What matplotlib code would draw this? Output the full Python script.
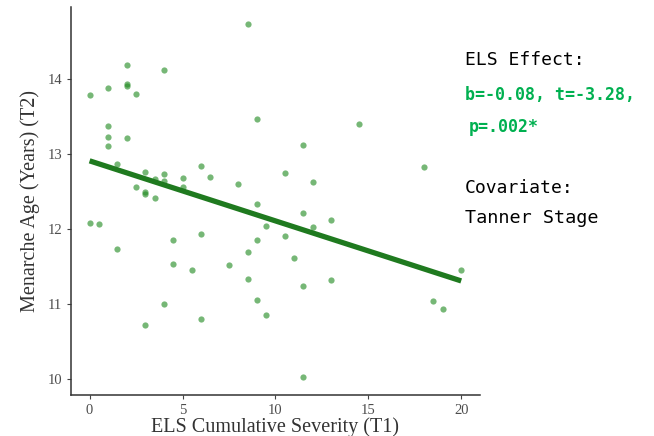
import numpy as np
import matplotlib
matplotlib.use("Agg")
import matplotlib.pyplot as plt

# ELS cumulative severity (T1) and menarche age (T2) per participant
els_severity = [8.5, 2.0, 4.0, 0.0, 1.0, 2.0, 2.0, 2.5, 9.0, 1.0,
                1.0, 2.0, 1.0, 1.5, 6.0, 6.5, 8.0, 3.0, 3.5, 4.0,
                4.0, 5.0, 5.0, 2.5, 3.0, 3.0, 3.5, 14.5, 11.5, 10.5,
                12.0, 18.0, 0.0, 0.5, 1.5, 4.5, 6.0, 9.0, 9.5, 9.0,
                8.5, 4.5, 5.5, 7.5, 8.5, 9.0, 9.5, 4.0, 3.0, 6.0,
                11.5, 12.0, 13.0, 10.5, 11.0, 11.5, 13.0, 20.0, 18.5, 19.0,
                11.5]
menarche_age = [14.73, 14.19, 14.12, 13.79, 13.88, 13.93, 13.91, 13.80, 13.47, 13.37,
                13.23, 13.22, 13.11, 12.87, 12.84, 12.70, 12.60, 12.76, 12.67, 12.74,
                12.64, 12.68, 12.56, 12.56, 12.49, 12.47, 12.42, 13.40, 13.12, 12.75,
                12.63, 12.83, 12.08, 12.07, 11.74, 11.86, 11.93, 12.33, 12.04, 11.86,
                11.70, 11.54, 11.46, 11.52, 11.33, 11.05, 10.85, 11.00, 10.72, 10.80,
                12.22, 12.03, 12.12, 11.91, 11.61, 11.24, 11.32, 11.45, 11.04, 10.93,
                10.03]

# fitted line (adjusted for Tanner stage)
intercept = 12.91
slope = -0.08

x_ticks = [0, 5, 10, 15, 20]
y_ticks = [10, 11, 12, 13, 14]

fig = plt.figure(figsize=(6.54, 4.36), dpi=100)
ax = fig.add_axes([0.1086, 0.094, 0.625, 0.89])

ax.scatter(els_severity, menarche_age, s=20, color="#228B22", alpha=0.62,
           linewidths=0, zorder=2)

xs = np.array([min(els_severity), max(els_severity)])
ax.plot(xs, intercept + slope * xs, color="#1f7a1f", lw=3.8,
        solid_capstyle="butt", zorder=3)

ax.set_xlim(-1, 21)
ax.set_ylim(9.79, 14.96)
ax.set_xticks(x_ticks)
ax.set_yticks(y_ticks)

for side in ["top", "right"]:
    ax.spines[side].set_visible(False)
for side in ["left", "bottom"]:
    ax.spines[side].set_color("#333333")
    ax.spines[side].set_linewidth(1.1)

ax.tick_params(axis="both", colors="#444444", length=3, width=0.8,
               labelsize=10.5, labelcolor="#4d4d4d")
for lab in ax.get_xticklabels() + ax.get_yticklabels():
    lab.set_family("Liberation Serif")

ax.set_xlabel("ELS Cumulative Severity (T1)", family="Liberation Serif",
              fontsize=14.5, color="#333333", labelpad=0)
ax.set_ylabel("Menarche Age (Years) (T2)", family="Liberation Serif",
              fontsize=14.5, color="#333333", labelpad=5)

# model summary on the right
mono = "DejaVu Sans Mono"
fig.text(0.711, 0.862, "ELS Effect:", family=mono, fontsize=13,
         color="black", va="center", ha="left")
fig.text(0.711, 0.782, "b=-0.08, t=-3.28,", family=mono, fontsize=12,
         weight="bold", color="#00b050", va="center", ha="left")
fig.text(0.717, 0.709, "p=.002*", family=mono, fontsize=12,
         weight="bold", color="#00b050", va="center", ha="left")
fig.text(0.711, 0.569, "Covariate:", family=mono, fontsize=13,
         color="black", va="center", ha="left")
fig.text(0.711, 0.500, "Tanner Stage", family=mono, fontsize=13.3,
         color="black", va="center", ha="left")

fig.savefig("out.png", dpi=100)
